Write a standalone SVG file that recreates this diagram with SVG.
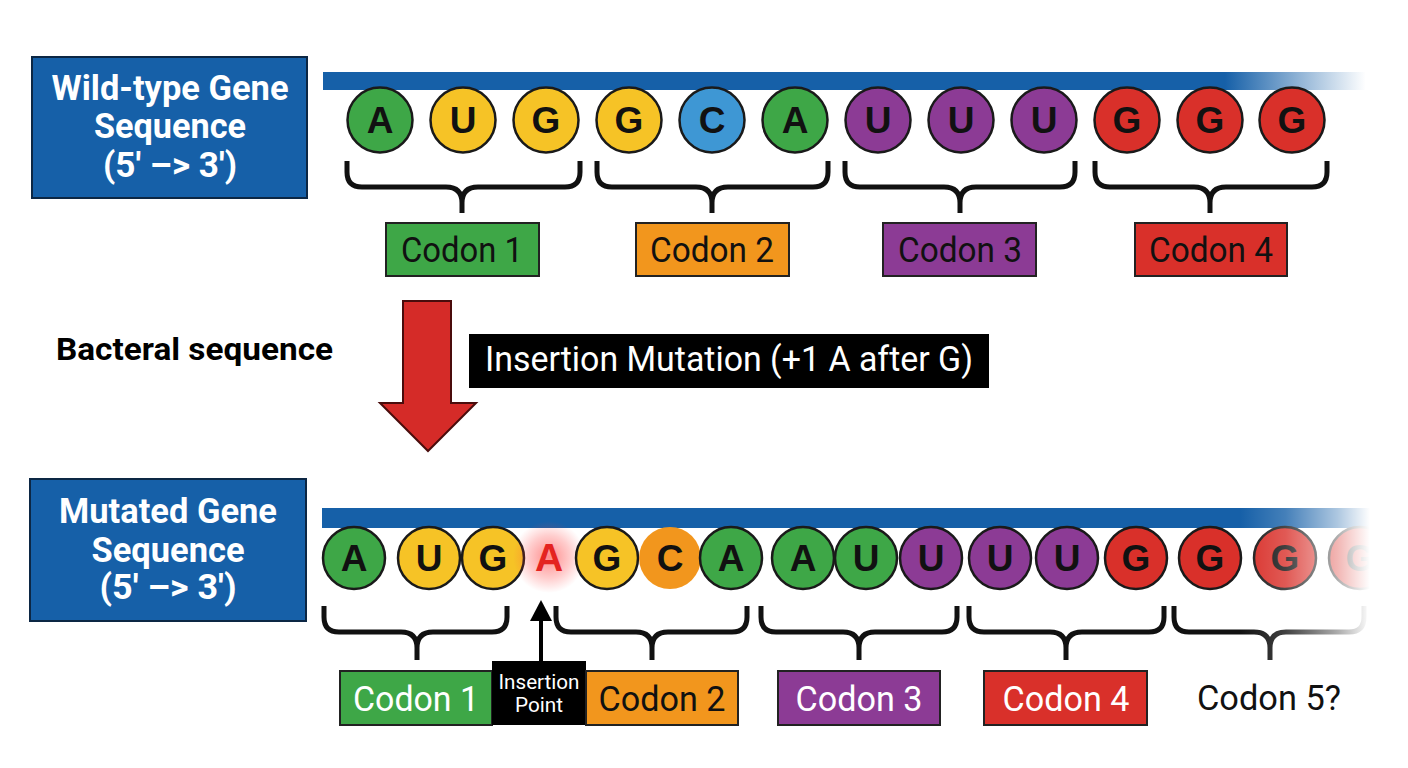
<svg xmlns="http://www.w3.org/2000/svg" width="1408" height="768" viewBox="0 0 1408 768">
<defs>
<style>
.title{font-family:Roboto,"Liberation Sans",sans-serif;font-weight:bold;font-size:35px;fill:#fff;text-anchor:middle}
.bx{fill:#1660a8;stroke:#0c2744;stroke-width:2}
.nt{stroke:#1a1a1a;stroke-width:2.5}
.lt{font-family:"Liberation Sans",Arial,sans-serif;font-weight:bold;font-size:37px;fill:#111;text-anchor:middle}
.cb{stroke:#222;stroke-width:2}
.ct{font-family:Roboto,"Liberation Sans",sans-serif;font-size:35px;text-anchor:middle}
.br{fill:none;stroke:#111;stroke-width:5}
.A{fill:#3ea747}.U{fill:#f6c326}.G{fill:#f6c326}.C{fill:#3e97d4}.P{fill:#8c3b95}.R{fill:#d9302a}.O{fill:#f2961d}
</style>
<linearGradient id="barTop" x1="0" y1="0" x2="1408" y2="0" gradientUnits="userSpaceOnUse">
<stop offset="0.87" stop-color="#1660a8"/>
<stop offset="0.97" stop-color="#1660a8" stop-opacity="0"/>
</linearGradient>
<linearGradient id="fadeBot" x1="1240" y1="0" x2="1370" y2="0" gradientUnits="userSpaceOnUse">
<stop offset="0" stop-color="#fff" stop-opacity="0"/>
<stop offset="0.35" stop-color="#fff" stop-opacity="0.2"/>
<stop offset="0.75" stop-color="#fff" stop-opacity="0.65"/>
<stop offset="1" stop-color="#fff" stop-opacity="1"/>
</linearGradient>
<radialGradient id="glow">
<stop offset="0" stop-color="#ff2a2a" stop-opacity="0.55"/>
<stop offset="0.6" stop-color="#ff3a3a" stop-opacity="0.25"/>
<stop offset="1" stop-color="#ff4a4a" stop-opacity="0"/>
</radialGradient>
</defs>
<rect width="1408" height="768" fill="#fff"/>

<!-- Top section -->
<g id="wildtype-label">
<rect class="bx" x="32" y="57" width="275" height="141"/>
<text class="title" x="170" y="100" textLength="237" lengthAdjust="spacingAndGlyphs">Wild-type Gene</text>
<text class="title" x="170" y="138" textLength="152" lengthAdjust="spacingAndGlyphs">Sequence</text>
<text class="title" x="170" y="177" textLength="134" lengthAdjust="spacingAndGlyphs">(5′ –&gt; 3′)</text>
</g>
<rect id="strand-top" x="323" y="72" width="1045" height="18" fill="url(#barTop)"/>

<g id="wt-nucleotides">
<g id="wt1"><circle class="nt A" cx="380" cy="120" r="32.5"/><text class="lt" x="380" y="133">A</text></g>
<g id="wt2"><circle class="nt U" cx="463" cy="120" r="32.5"/><text class="lt" x="463" y="133">U</text></g>
<g id="wt3"><circle class="nt G" cx="546" cy="120" r="32.5"/><text class="lt" x="546" y="133">G</text></g>
<g id="wt4"><circle class="nt G" cx="629" cy="120" r="32.5"/><text class="lt" x="629" y="133">G</text></g>
<g id="wt5"><circle class="nt C" cx="712" cy="120" r="32.5"/><text class="lt" x="712" y="133">C</text></g>
<g id="wt6"><circle class="nt A" cx="795" cy="120" r="32.5"/><text class="lt" x="795" y="133">A</text></g>
<g id="wt7"><circle class="nt P" cx="878" cy="120" r="32.5"/><text class="lt" x="878" y="133">U</text></g>
<g id="wt8"><circle class="nt P" cx="961" cy="120" r="32.5"/><text class="lt" x="961" y="133">U</text></g>
<g id="wt9"><circle class="nt P" cx="1044" cy="120" r="32.5"/><text class="lt" x="1044" y="133">U</text></g>
<g id="wt10"><circle class="nt R" cx="1127" cy="120" r="32.5"/><text class="lt" x="1127" y="133">G</text></g>
<g id="wt11"><circle class="nt R" cx="1210" cy="120" r="32.5"/><text class="lt" x="1210" y="133">G</text></g>
<g id="wt12"><circle class="nt R" cx="1292" cy="120" r="32.5"/><text class="lt" x="1292" y="133">G</text></g>
</g>

<g id="wt-codon1"><rect class="cb A" x="386" y="223" width="153" height="53"/><text class="ct" x="462" y="262" textLength="122" lengthAdjust="spacingAndGlyphs" fill="#111">Codon 1</text></g>
<g id="wt-codon2"><rect class="cb O" x="636" y="223" width="153" height="53"/><text class="ct" x="712" y="262" textLength="124" lengthAdjust="spacingAndGlyphs" fill="#111">Codon 2</text></g>
<g id="wt-codon3"><rect class="cb P" x="883" y="223" width="153" height="53"/><text class="ct" x="960" y="262" textLength="124" lengthAdjust="spacingAndGlyphs" fill="#111">Codon 3</text></g>
<g id="wt-codon4"><rect class="cb R" x="1135" y="223" width="152" height="53"/><text class="ct" x="1211" y="262" textLength="124" lengthAdjust="spacingAndGlyphs" fill="#111">Codon 4</text></g>

<!-- Middle -->
<g id="bacterial-label">
<text x="56" y="360" font-family="Roboto,'Liberation Sans',sans-serif" font-weight="bold" font-size="31" fill="#000" textLength="277" lengthAdjust="spacingAndGlyphs">Bacteral sequence</text>
</g>
<g id="mutation-label">
<rect x="469" y="334" width="520" height="54" fill="#000"/>
<text x="485" y="371" font-family="Roboto,'Liberation Sans',sans-serif" font-size="35" fill="#fff" textLength="488" lengthAdjust="spacingAndGlyphs">Insertion Mutation (+1 A after G)</text>
</g>

<!-- Bottom section -->
<g id="mutated-label">
<rect class="bx" x="30" y="479" width="276" height="142"/>
<text class="title" x="168" y="523" textLength="218" lengthAdjust="spacingAndGlyphs">Mutated Gene</text>
<text class="title" x="168" y="562" textLength="153" lengthAdjust="spacingAndGlyphs">Sequence</text>
<text class="title" x="168" y="599" textLength="137" lengthAdjust="spacingAndGlyphs">(5′ –&gt; 3′)</text>
</g>
<rect id="strand-bottom" x="322" y="508" width="1050" height="20" fill="#1660a8"/>

<g id="mut-nucleotides">
<g id="m1"><circle class="nt A" cx="354" cy="558" r="31"/><text class="lt" x="354" y="571">A</text></g>
<g id="m2"><circle class="nt U" cx="429" cy="558" r="31"/><text class="lt" x="429" y="571">U</text></g>
<g id="m3"><circle class="nt G" cx="493" cy="558" r="31"/><text class="lt" x="493" y="571">G</text></g>
<g id="m4"><circle cx="549" cy="557" r="36" fill="url(#glow)"/><text x="549" y="571" font-family="'Liberation Sans',Arial,sans-serif" font-weight="bold" font-size="39" fill="#e42320" text-anchor="middle">A</text></g>
<g id="m5"><circle class="nt G" cx="607" cy="558" r="31"/><text class="lt" x="607" y="571">G</text></g>
<g id="m6"><circle class="O" cx="670" cy="558" r="31"/><text class="lt" x="670" y="571">C</text></g>
<g id="m7"><circle class="nt A" cx="731" cy="558" r="31"/><text class="lt" x="731" y="571">A</text></g>
<g id="m8"><circle class="nt A" cx="803" cy="558" r="31"/><text class="lt" x="803" y="571">A</text></g>
<g id="m9"><circle class="nt A" cx="866" cy="558" r="31"/><text class="lt" x="866" y="571">U</text></g>
<g id="m10"><circle class="nt P" cx="931" cy="558" r="31"/><text class="lt" x="931" y="571">U</text></g>
<g id="m11"><circle class="nt P" cx="1000" cy="558" r="31"/><text class="lt" x="1000" y="571">U</text></g>
<g id="m12"><circle class="nt P" cx="1067" cy="558" r="31"/><text class="lt" x="1067" y="571">U</text></g>
<g id="m13"><circle class="nt R" cx="1136" cy="558" r="31"/><text class="lt" x="1136" y="571">G</text></g>
<g id="m14"><circle class="nt R" cx="1210" cy="558" r="31"/><text class="lt" x="1210" y="571">G</text></g>
<g id="m15"><circle class="nt R" cx="1285" cy="558" r="31"/><text class="lt" x="1285" y="571">G</text></g>
<g id="m16"><circle class="nt R" cx="1360" cy="558" r="31"/><text class="lt" x="1360" y="571">G</text></g>
</g>

<g id="connectors">
<!-- top braces -->
<path class="br" d="M347,161 V172 Q347,187 362,187 H446 Q462,187 462,203 V213 M580,161 V172 Q580,187 565,187 H478 Q462,187 462,203"/>
<path class="br" d="M597,161 V172 Q597,187 612,187 H696 Q712,187 712,203 V213 M828,161 V172 Q828,187 813,187 H728 Q712,187 712,203"/>
<path class="br" d="M845,161 V172 Q845,187 860,187 H944 Q960,187 960,203 V213 M1075,161 V172 Q1075,187 1060,187 H976 Q960,187 960,203"/>
<path class="br" d="M1095,161 V172 Q1095,187 1110,187 H1194 Q1210,187 1210,203 V213 M1327,161 V172 Q1327,187 1312,187 H1226 Q1210,187 1210,203"/>
<!-- bottom braces -->
<path class="br" d="M324,606 V617 Q324,632 339,632 H401 Q417,632 417,648 V660 M507,606 V617 Q507,632 492,632 H433 Q417,632 417,648"/>
<path class="br" d="M556,606 V617 Q556,632 571,632 H636 Q652,632 652,648 V660 M747,606 V617 Q747,632 732,632 H668 Q652,632 652,648"/>
<path class="br" d="M761,606 V617 Q761,632 776,632 H843 Q859,632 859,648 V660 M957,606 V617 Q957,632 942,632 H875 Q859,632 859,648"/>
<path class="br" d="M969,606 V617 Q969,632 984,632 H1050 Q1066,632 1066,648 V660 M1164,606 V617 Q1164,632 1149,632 H1082 Q1066,632 1066,648"/>
<path class="br" d="M1174,606 V617 Q1174,632 1189,632 H1254 Q1270,632 1270,648 V660 M1364,606 V617 Q1364,632 1349,632 H1286 Q1270,632 1270,648"/>
<!-- big red arrow -->
<polygon points="403,301 451,301 451,403 476,403 428,451 380,403 403,403" fill="#d52b28" stroke="#4a0c0c" stroke-width="2"/>
<!-- insertion point arrow -->
<line x1="541" y1="662" x2="541" y2="618" stroke="#000" stroke-width="4"/>
<polygon points="530,621 552,621 541,600" fill="#000"/>
</g>

<!-- fade-out at right end of mutated strand -->
<rect x="1240" y="500" width="168" height="170" fill="url(#fadeBot)"/>

<g id="mut-codon1"><rect class="cb A" x="340" y="671" width="152" height="54"/><text class="ct" x="416" y="711" textLength="126" lengthAdjust="spacingAndGlyphs" fill="#fff">Codon 1</text></g>
<g id="insertion-point"><rect x="492" y="661" width="94" height="64" fill="#000"/>
<text x="539" y="689" font-family="Roboto,'Liberation Sans',sans-serif" font-size="20" fill="#fff" text-anchor="middle" textLength="81" lengthAdjust="spacingAndGlyphs">Insertion</text>
<text x="539" y="712" font-family="Roboto,'Liberation Sans',sans-serif" font-size="20" fill="#fff" text-anchor="middle" textLength="48" lengthAdjust="spacingAndGlyphs">Point</text></g>
<g id="mut-codon2"><rect class="cb O" x="586" y="671" width="152" height="54"/><text class="ct" x="662" y="711" textLength="127" lengthAdjust="spacingAndGlyphs" fill="#111">Codon 2</text></g>
<g id="mut-codon3"><rect class="cb P" x="778" y="671" width="162" height="54"/><text class="ct" x="859" y="711" textLength="127" lengthAdjust="spacingAndGlyphs" fill="#fff">Codon 3</text></g>
<g id="mut-codon4"><rect class="cb R" x="984" y="671" width="163" height="54"/><text class="ct" x="1066" y="711" textLength="127" lengthAdjust="spacingAndGlyphs" fill="#fff">Codon 4</text></g>
<g id="mut-codon5"><text class="ct" x="1269" y="710" textLength="144" lengthAdjust="spacingAndGlyphs" fill="#111">Codon 5?</text></g>
</svg>
